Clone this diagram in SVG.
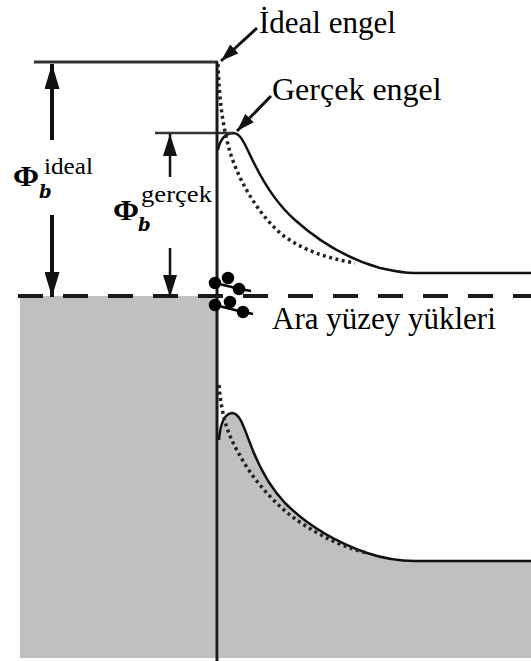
<svg xmlns="http://www.w3.org/2000/svg" width="531" height="661" viewBox="0 0 531 661">
<style>
.ln{stroke:#333;fill:none}
.wall{stroke:#1a1a1a;stroke-width:3;fill:none}
.solid{stroke:#111;stroke-width:2.5;fill:none}
.dot{stroke:#222;stroke-width:3.5;fill:none;stroke-dasharray:3 3.5}
.gray{fill:#c0c0c0;stroke:none}
.txt{font-family:"Liberation Serif","Times New Roman",serif;fill:#000}
.phi{font-family:"Liberation Serif","DejaVu Serif",serif;font-weight:bold;fill:#000}
.sub{font-family:"DejaVu Serif","Liberation Serif",serif;font-weight:bold;font-style:italic;fill:#000}
.sup{font-family:"Liberation Serif","DejaVu Serif",serif;fill:#000}
</style>
<defs>
<marker id="headBig" markerUnits="userSpaceOnUse" markerWidth="25" markerHeight="15" refX="25" refY="7.5" orient="auto"><path d="M0,0 L25,7.5 L0,15 Z" fill="#111"/></marker>
<marker id="headMid" markerUnits="userSpaceOnUse" markerWidth="22" markerHeight="14" refX="22" refY="7" orient="auto"><path d="M0,0 L22,7 L0,14 Z" fill="#111"/></marker>
<marker id="headLbl" markerUnits="userSpaceOnUse" markerWidth="18" markerHeight="12" refX="18" refY="6" orient="auto"><path d="M0,0 L18,6 L0,12 Z" fill="#111"/></marker>
</defs>
<rect width="531" height="661" fill="#fff"/>
<g id="metal">
<rect class="gray" x="20" y="296" width="198" height="362"/>
</g>
<g id="lower-band">
<path class="gray" d="M219,440 Q221,414 232,413 C240,413 244,428 250,443 C258,465 268,485 285,503 C305,523 330,540 367,553 C385,559 400,561 415,561 L531,561 L531,658 L219,658 Z"/>
<path class="solid" d="M219,440 Q221,414 232,413 C240,413 244,428 250,443 C258,465 268,485 285,503 C305,523 330,540 367,553 C385,559 400,561 415,561 L531,561"/>
<path class="dot" d="M219,385 C221,410 226,432 238,452 C250,475 268,497 290,515 C310,530 335,545 367,553"/>
</g>
<g id="upper-band">
<path class="solid" d="M218,150 Q221,134 233,133 C242,133 246,148 255,165 C265,185 278,205 295,220 C315,238 345,258 380,268 C393,271 400,273 415,273 L531,273"/>
<path class="dot" d="M218,64 C219,95 222,125 230,152 C238,178 255,210 280,233 C300,249 325,258 355,263"/>
</g>
<g id="levels">
<line class="ln" x1="34" y1="62" x2="218" y2="62" stroke-width="3" stroke="#555"/>
<line class="ln" x1="155" y1="133" x2="233" y2="133" stroke-width="2.5" stroke="#444"/>
<line x1="18" y1="296" x2="531" y2="296" stroke="#1a1a1a" stroke-width="4" stroke-dasharray="25 20"/>
<line class="wall" x1="217" y1="62" x2="217" y2="661"/>
</g>
<g id="interface-charges" fill="#000" stroke="#000" stroke-width="2.5">
<line x1="215" y1="283" x2="240" y2="289"/>
<line x1="240" y1="289" x2="251" y2="291"/>
<line x1="215" y1="305" x2="243" y2="312"/>
<line x1="243" y1="312" x2="253" y2="314"/>
<circle cx="215" cy="283" r="5"/>
<circle cx="228" cy="278" r="5"/>
<circle cx="239" cy="289" r="5"/>
<circle cx="215" cy="305" r="5"/>
<circle cx="230" cy="302" r="5"/>
<circle cx="243" cy="312" r="5"/>
</g>
<g id="connectors">
<line x1="52" y1="140" x2="52" y2="64" stroke="#111" stroke-width="4" marker-end="url(#headBig)"/>
<line x1="52" y1="215" x2="52" y2="297" stroke="#111" stroke-width="4" marker-end="url(#headBig)"/>
<line x1="170" y1="177" x2="170" y2="134" stroke="#111" stroke-width="2.5" marker-end="url(#headMid)"/>
<line x1="170" y1="248" x2="170" y2="297" stroke="#111" stroke-width="2.5" marker-end="url(#headMid)"/>
<line x1="257" y1="28" x2="221" y2="61" stroke="#111" stroke-width="3" marker-end="url(#headLbl)"/>
<line x1="271" y1="96" x2="237" y2="131" stroke="#111" stroke-width="3" marker-end="url(#headLbl)"/>
</g>
<g id="label-ideal-engel"><text class="txt" x="259" y="33" font-size="31">İdeal engel</text></g>
<g id="label-gercek-engel"><text class="txt" x="272" y="100" font-size="32">Gerçek engel</text></g>
<g id="label-ara"><text class="txt" x="272" y="329" font-size="31">Ara yüzey yükleri</text></g>
<g id="label-phi-ideal">
<text class="phi" x="13" y="186" font-size="29" textLength="26" lengthAdjust="spacingAndGlyphs">Φ</text>
<text class="sub" x="39" y="198" font-size="18">b</text>
<text class="sup" x="44" y="174" font-size="23" textLength="49" lengthAdjust="spacingAndGlyphs">ideal</text>
</g>
<g id="label-phi-gercek">
<text class="phi" x="113" y="220" font-size="29" textLength="26" lengthAdjust="spacingAndGlyphs">Φ</text>
<text class="sub" x="138" y="231" font-size="18">b</text>
<text class="sup" x="141" y="202" font-size="23" textLength="71" lengthAdjust="spacingAndGlyphs">gerçek</text>
</g>
</svg>
